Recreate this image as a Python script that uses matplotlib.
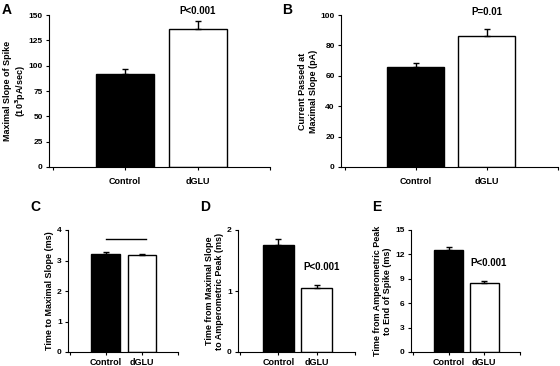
import matplotlib.pyplot as plt
import numpy as np

plt.rcParams['font.family'] = 'Liberation Sans'
plt.rcParams['font.weight'] = 'bold'
plt.rcParams['font.size'] = 6.5

groups = ['Control', 'dGLU']

slope_mean = [92, 136]
slope_err = [5, 8]
current_mean = [66, 86.5]
current_err = [2.5, 4.5]
t_slope_mean = [3.22, 3.17]
t_slope_err = [0.07, 0.05]
t_peak_mean = [1.75, 1.05]
t_peak_err = [0.1, 0.05]
t_end_mean = [12.5, 8.5]
t_end_err = [0.45, 0.22]

fig = plt.figure(figsize=(5.6, 3.66), dpi=100)


def panel(rect, means, errs, ymax, step, ylabel, letter, letter_xy, xpad, lpad=2):
    ax = fig.add_axes(rect)
    x = np.array([1, 2])
    ax.bar(x, means, width=0.8, color=['black', 'white'], edgecolor='black', linewidth=1)
    ax.errorbar(x, means, yerr=[[0, 0], errs], fmt='none', ecolor='black',
                elinewidth=1, capsize=2.5, capthick=1)
    ax.set_xlim(-0.05, 3)
    ax.set_ylim(0, ymax)
    ax.set_yticks(np.arange(0, ymax + step / 2, step))
    ax.set_xticks([0, 1, 2, 3])
    ax.set_xticklabels(['', groups[0], groups[1], ''])
    ax.tick_params(axis='x', length=2, pad=xpad, labelsize=6.5)
    ax.tick_params(axis='y', length=2.5, pad=2, labelsize=6)
    for s in ['top', 'right']:
        ax.spines[s].set_visible(False)
    ax.set_ylabel(ylabel, fontsize=6.5, fontweight='bold', labelpad=lpad)
    fig.text(letter_xy[0], letter_xy[1], letter, fontsize=10, fontweight='bold',
             va='top', ha='left')
    return ax


axA = panel([49/560, 1-167/366, 221/560, 152/366], slope_mean, slope_err, 150, 25,
            'Maximal Slope of Spike\n(10$^\\mathbf{3}$pA/sec)', 'A', (2/560, 1-3/366), 5, lpad=0)
axA.text(2, 149, 'P<0.001', ha='center', va='bottom', fontsize=7)

axB = panel([341/560, 1-167/366, 217/560, 152/366], current_mean, current_err, 100, 20,
            'Current Passed at\nMaximal Slope (pA)', 'B', (282/560, 1-3/366), 5)
axB.text(2, 99, 'P=0.01', ha='center', va='bottom', fontsize=7)

axC = panel([68/560, 1-352/366, 110/560, 122/366], t_slope_mean, t_slope_err, 4, 1,
            'Time to Maximal Slope (ms)', 'C', (30/560, 1-200/366), 2)
axC.plot([1.0, 2.1], [3.7, 3.7], color='black', linewidth=1)

axD = panel([238/560, 1-352/366, 117/560, 122/366], t_peak_mean, t_peak_err, 2, 1,
            'Time from Maximal Slope\nto Amperometric Peak (ms)', 'D', (200/560, 1-200/366), 2)
axD.text(1.65, 1.4, 'P<0.001', ha='left', va='center', fontsize=7)

axE = panel([411/560, 1-352/366, 109/560, 122/366], t_end_mean, t_end_err, 15, 3,
            'Time from Amperometric Peak\nto End of Spike (ms)', 'E', (372/560, 1-200/366), 2)
axE.text(1.6, 11, 'P<0.001', ha='left', va='center', fontsize=7)

fig.savefig('out.png', dpi=100)
